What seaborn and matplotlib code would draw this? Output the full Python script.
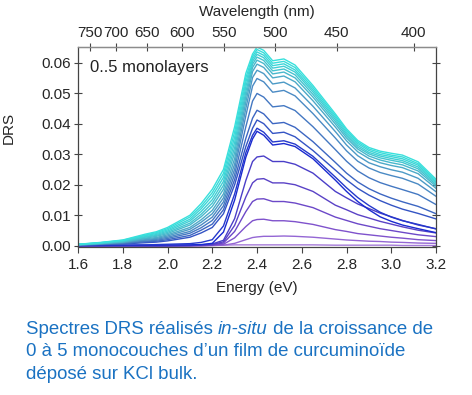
import numpy as np
import pandas as pd
import matplotlib
matplotlib.use("Agg")
import matplotlib.pyplot as plt
import seaborn as sns

# energy grid (eV) shared by all spectra
energy = [1.60, 1.70, 1.80, 1.90, 1.95, 2.00, 2.10, 2.15, 2.20, 2.25, 2.30, 2.35, 2.38, 2.40,
          2.43, 2.47, 2.52, 2.57, 2.65, 2.75, 2.80, 2.85, 2.90, 2.95, 3.00, 3.05, 3.12, 3.20]

# DRS spectra (lowest coverage first)
purple_a = [0, 0, 0, 0, 0, 0, 0, 0, 0.0001, 0.0002, 0.0003, 0.0003, 0.0003, 0.0003,
            0.0003, 0.0003, 0.0003, 0.0003, 0.0003, 0.0002, 0.0002, 0.0002, 0.0002, 0.0002, 0.0002, 0.0001, 0.0001, 0.0001]
purple_b = [0, 0, 0, 0, 0, 0, 0, 0, 0.0001, 0.0002, 0.0008, 0.0020, 0.0027, 0.0029,
            0.0031, 0.0031, 0.0032, 0.0031, 0.0028, 0.0022, 0.0019, 0.0017, 0.0015, 0.0014, 0.0012, 0.0011, 0.0009, 0.0008]
purple_c = [0, 0, 0, 0, 0, 0, 0, 0.0001, 0.0002, 0.0005, 0.0026, 0.0063, 0.0082, 0.0086,
            0.0087, 0.0082, 0.0082, 0.0079, 0.0070, 0.0053, 0.0047, 0.0040, 0.0036, 0.0032, 0.0028, 0.0025, 0.0020, 0.0017]
purple_d = [0, 0, 0, 0, 0, 0, 0.0001, 0.0002, 0.0003, 0.0009, 0.0047, 0.0112, 0.0145, 0.0153,
            0.0154, 0.0145, 0.0145, 0.0140, 0.0125, 0.0094, 0.0083, 0.0072, 0.0064, 0.0056, 0.0050, 0.0044, 0.0036, 0.0030]
purple_e = [0, 0, 0, 0, 0, 0, 0.0001, 0.0002, 0.0004, 0.0013, 0.0067, 0.0160, 0.0206, 0.0218,
            0.0220, 0.0206, 0.0206, 0.0200, 0.0178, 0.0133, 0.0118, 0.0102, 0.0091, 0.0080, 0.0071, 0.0062, 0.0051, 0.0042]
purple_f = [0, 0, 0, 0, 0, 0, 0.0001, 0.0003, 0.0006, 0.0018, 0.0089, 0.0214, 0.0276, 0.0291,
            0.0294, 0.0276, 0.0276, 0.0267, 0.0238, 0.0178, 0.0157, 0.0137, 0.0122, 0.0107, 0.0095, 0.0083, 0.0068, 0.0056]
dark_1 = [0.0001, 0.0001, 0.0002, 0.0002, 0.0002, 0.0003, 0.0003, 0.0004, 0.0008, 0.0045, 0.0150, 0.0290, 0.0350, 0.0375,
          0.0362, 0.0330, 0.0335, 0.0325, 0.0285, 0.0215, 0.0178, 0.0145, 0.0118, 0.0095, 0.0080, 0.0068, 0.0056, 0.0043]
dark_2 = [0.0001, 0.0002, 0.0002, 0.0003, 0.0004, 0.0005, 0.0007, 0.0011, 0.0020, 0.0065, 0.0170, 0.0305, 0.0362, 0.0385,
          0.0372, 0.0340, 0.0344, 0.0333, 0.0293, 0.0225, 0.0190, 0.0158, 0.0132, 0.0110, 0.0094, 0.0082, 0.0070, 0.0055]
blue_00 = [0.0002, 0.0004, 0.0006, 0.0010, 0.0012, 0.0016, 0.0028, 0.0042, 0.0060, 0.0105, 0.0200, 0.0325, 0.0385, 0.0412,
           0.0400, 0.0368, 0.0372, 0.0357, 0.0312, 0.0248, 0.0216, 0.0188, 0.0166, 0.0148, 0.0133, 0.0120, 0.0106, 0.0088]
blue_01 = [0.0002, 0.0005, 0.0007, 0.0013, 0.0015, 0.0020, 0.0034, 0.0051, 0.0071, 0.0118, 0.0217, 0.0352, 0.0418, 0.0444,
           0.0432, 0.0400, 0.0404, 0.0388, 0.0341, 0.0273, 0.0238, 0.0209, 0.0187, 0.0170, 0.0156, 0.0144, 0.0129, 0.0105]
blue_02 = [0.0003, 0.0005, 0.0008, 0.0015, 0.0018, 0.0024, 0.0041, 0.0059, 0.0083, 0.0131, 0.0234, 0.0390, 0.0474, 0.0499,
           0.0487, 0.0455, 0.0459, 0.0443, 0.0390, 0.0315, 0.0277, 0.0245, 0.0223, 0.0207, 0.0195, 0.0184, 0.0168, 0.0135]
blue_03 = [0.0003, 0.0006, 0.0010, 0.0018, 0.0021, 0.0028, 0.0047, 0.0068, 0.0094, 0.0144, 0.0251, 0.0426, 0.0523, 0.0548,
           0.0537, 0.0503, 0.0509, 0.0491, 0.0433, 0.0353, 0.0311, 0.0277, 0.0255, 0.0240, 0.0230, 0.0221, 0.0202, 0.0162]
blue_04 = [0.0003, 0.0007, 0.0011, 0.0020, 0.0024, 0.0032, 0.0054, 0.0077, 0.0105, 0.0157, 0.0268, 0.0450, 0.0551, 0.0575,
           0.0564, 0.0530, 0.0536, 0.0517, 0.0457, 0.0374, 0.0330, 0.0295, 0.0272, 0.0259, 0.0249, 0.0241, 0.0221, 0.0177]
blue_05 = [0.0003, 0.0007, 0.0012, 0.0023, 0.0027, 0.0036, 0.0060, 0.0085, 0.0116, 0.0170, 0.0286, 0.0471, 0.0571, 0.0595,
           0.0584, 0.0550, 0.0556, 0.0537, 0.0475, 0.0389, 0.0344, 0.0308, 0.0286, 0.0272, 0.0263, 0.0256, 0.0236, 0.0188]
blue_06 = [0.0004, 0.0008, 0.0013, 0.0025, 0.0031, 0.0040, 0.0068, 0.0095, 0.0129, 0.0185, 0.0305, 0.0489, 0.0584, 0.0608,
           0.0597, 0.0563, 0.0569, 0.0550, 0.0487, 0.0399, 0.0353, 0.0317, 0.0294, 0.0281, 0.0272, 0.0265, 0.0245, 0.0195]
blue_07 = [0.0004, 0.0008, 0.0014, 0.0028, 0.0034, 0.0044, 0.0074, 0.0103, 0.0140, 0.0198, 0.0322, 0.0505, 0.0595, 0.0618,
           0.0607, 0.0573, 0.0579, 0.0560, 0.0496, 0.0407, 0.0360, 0.0323, 0.0301, 0.0288, 0.0280, 0.0273, 0.0252, 0.0200]
blue_08 = [0.0004, 0.0009, 0.0016, 0.0030, 0.0037, 0.0048, 0.0081, 0.0112, 0.0151, 0.0211, 0.0339, 0.0521, 0.0604, 0.0627,
           0.0616, 0.0582, 0.0588, 0.0569, 0.0504, 0.0414, 0.0366, 0.0329, 0.0306, 0.0294, 0.0286, 0.0279, 0.0258, 0.0205]
blue_09 = [0.0004, 0.0010, 0.0017, 0.0033, 0.0040, 0.0052, 0.0087, 0.0121, 0.0163, 0.0224, 0.0356, 0.0536, 0.0612, 0.0635,
           0.0624, 0.0590, 0.0596, 0.0576, 0.0511, 0.0420, 0.0372, 0.0335, 0.0312, 0.0299, 0.0292, 0.0285, 0.0264, 0.0209]
blue_10 = [0.0005, 0.0010, 0.0018, 0.0035, 0.0043, 0.0056, 0.0094, 0.0129, 0.0174, 0.0237, 0.0373, 0.0550, 0.0620, 0.0643,
           0.0632, 0.0598, 0.0604, 0.0584, 0.0518, 0.0426, 0.0378, 0.0340, 0.0317, 0.0305, 0.0297, 0.0291, 0.0269, 0.0214]
blue_11 = [0.0005, 0.0011, 0.0019, 0.0038, 0.0046, 0.0060, 0.0100, 0.0138, 0.0185, 0.0250, 0.0390, 0.0565, 0.0628, 0.0651,
           0.0640, 0.0606, 0.0612, 0.0592, 0.0525, 0.0432, 0.0383, 0.0345, 0.0322, 0.0310, 0.0303, 0.0297, 0.0275, 0.0218]

curves = {
    "a": purple_a, "b": purple_b, "c": purple_c, "d": purple_d, "e": purple_e, "f": purple_f,
    "g": dark_1, "h": dark_2,
    "i": blue_00, "j": blue_01, "k": blue_02, "l": blue_03, "m": blue_04, "n": blue_05,
    "o": blue_06, "p": blue_07, "q": blue_08, "r": blue_09, "s": blue_10, "t": blue_11,
}
colors = ['#a57ad8', '#9466d4', '#7f52cc', '#6c48c8', '#5a42c6', '#4a3ec8',
          '#1a2ad0', '#2438cc', '#3454c4', '#3c66c2', '#4478c2', '#4a8ac4',
          '#4c9ac6', '#4caac8', '#48b8cc', '#44c4d0', '#40ced4', '#3cd6d8',
          '#3adcda', '#38e0dc']

wl_ticks = [750, 700, 650, 600, 550, 500, 450, 400]
y_ticks = [0.00, 0.01, 0.02, 0.03, 0.04, 0.05, 0.06]
x_ticks = [1.6, 1.8, 2.0, 2.2, 2.4, 2.6, 2.8, 3.0, 3.2]

df = pd.concat([pd.DataFrame({'energy': energy, 'drs': v, 'curve': k}) for k, v in curves.items()])

sns.set_style("ticks")
plt.rcParams['font.family'] = ['Liberation Sans', 'DejaVu Sans']

fig = plt.figure(figsize=(4.72, 3.95), dpi=100)
ax = fig.add_axes([0.1653, 0.3739, 0.7585, 0.5078])

sns.lineplot(data=df, x='energy', y='drs', hue='curve', palette=colors,
             estimator=None, legend=False, linewidth=1.0, ax=ax)

ax.set_xlim(1.6, 3.2)
ax.set_ylim(-0.0005, 0.0652)
ax.set_xticks(x_ticks)
ax.set_yticks(y_ticks)
ax.xaxis.set_major_formatter(matplotlib.ticker.FormatStrFormatter('%.1f'))
ax.yaxis.set_major_formatter(matplotlib.ticker.FormatStrFormatter('%.2f'))
ax.tick_params(axis='x', direction='out', length=4, width=0.8, labelsize=11, pad=4, color='#444444')
ax.tick_params(axis='y', direction='inout', length=6, width=0.8, labelsize=11, pad=2,
               right=True, color='#444444')
ax.set_xlabel('Energy (eV)', fontsize=11, labelpad=6)
ax.set_ylabel('DRS', fontsize=11)
ax.yaxis.set_label_coords(-0.173, 0.595)
for s in ['left', 'right', 'bottom']:
    ax.spines[s].set_color('#444444')
    ax.spines[s].set_linewidth(0.9)
ax.spines['top'].set_color('#8c8c8c')
ax.spines['top'].set_linewidth(1.0)

secax = ax.secondary_xaxis('top', functions=(lambda e: 1239.84 / np.asarray(e, dtype=float),
                                             lambda w: 1239.84 / np.asarray(w, dtype=float)))
secax.set_xticks(wl_ticks)
secax.tick_params(direction='inout', length=6, width=0.8, labelsize=11, pad=2, color='#444444')
secax.spines['top'].set_color('#8c8c8c')
secax.set_xlabel('Wavelength (nm)', fontsize=11, labelpad=7)

ax.text(0.034, 0.894, '0..5 monolayers', transform=ax.transAxes, fontsize=12,
        ha='left', va='center', color='#222222')

# caption below the chart, with the italic part drawn as its own piece
cap_color = '#1a72c2'
cap_size = 13.4
base1 = 1 - 334 / 395
t1 = fig.text(0.055, base1, 'Spectres DRS réalisés ', fontsize=cap_size, color=cap_color,
              ha='left', va='baseline')
t2 = fig.text(0, base1, 'in-situ', fontsize=cap_size, color=cap_color, style='italic', va='baseline')
t3 = fig.text(0, base1, ' de la croissance de', fontsize=cap_size, color=cap_color, va='baseline')
fig.canvas.draw()
r = fig.canvas.get_renderer()
inv = fig.transFigure.inverted()
t2.set_x(inv.transform(t1.get_window_extent(r).p1)[0])
fig.canvas.draw()
t3.set_x(inv.transform(t2.get_window_extent(r).p1)[0])
fig.text(0.055, 1 - 356.5 / 395, '0 à 5 monocouches d\u2019un film de curcuminoïde',
         fontsize=cap_size, color=cap_color, ha='left', va='baseline')
fig.text(0.055, 1 - 379 / 395, 'déposé sur KCl bulk.',
         fontsize=cap_size, color=cap_color, ha='left', va='baseline')

fig.savefig('out.png', dpi=100, facecolor='white')
